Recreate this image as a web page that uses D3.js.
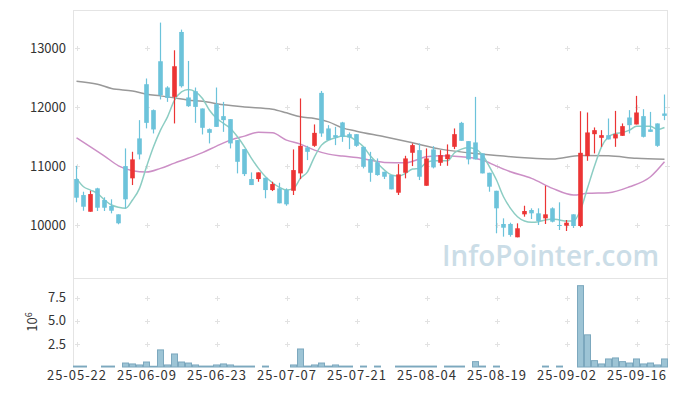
<!DOCTYPE html>
<html>
<head>
<meta charset="utf-8">
<script src="https://cdn.jsdelivr.net/npm/d3@7"></script>
<style>
body { margin: 0; background: #fff; }
text { font-family: "Noto Sans CJK KR", "Noto Sans", sans-serif; }
</style>
</head>
<body>
<svg id="chart" width="677" height="396"></svg>
<script>
// trading days shown on the chart
let dates = [
    "25-05-22", "25-05-23", "25-05-26", "25-05-27", "25-05-28", "25-05-29", "25-05-30", "25-06-02", "25-06-04", "25-06-05",
    "25-06-09", "25-06-10", "25-06-11", "25-06-12", "25-06-13", "25-06-16", "25-06-17", "25-06-18", "25-06-19", "25-06-20",
    "25-06-23", "25-06-24", "25-06-25", "25-06-26", "25-06-27", "25-06-30", "25-07-01", "25-07-02", "25-07-03", "25-07-04",
    "25-07-07", "25-07-08", "25-07-09", "25-07-10", "25-07-11", "25-07-14", "25-07-15", "25-07-16", "25-07-17", "25-07-18",
    "25-07-21", "25-07-22", "25-07-23", "25-07-24", "25-07-25", "25-07-28", "25-07-29", "25-07-30", "25-07-31", "25-08-01",
    "25-08-04", "25-08-05", "25-08-06", "25-08-07", "25-08-08", "25-08-11", "25-08-12", "25-08-13", "25-08-14", "25-08-18",
    "25-08-19", "25-08-20", "25-08-21", "25-08-22", "25-08-25", "25-08-26", "25-08-27", "25-08-28", "25-08-29", "25-09-01",
    "25-09-02", "25-09-03", "25-09-04", "25-09-05", "25-09-08", "25-09-09", "25-09-10", "25-09-11", "25-09-12", "25-09-15",
    "25-09-16", "25-09-17", "25-09-18", "25-09-19", "25-09-22"
];

let open = [
    10780, 10508, 10225, 10622, 10424, 10322, 10181, 11000, 10792, 11470,
    12390, 11950, 12780, 12334, 12175, 13277, 12165, 12271, 11978, 11627,
    12051, 11848, 11797, 11441, 11288, 10780, 10780, 10802, 10593, 10622,
    10593, 10581, 10876, 11317, 11344, 12243, 11639, 11525, 11741, 11542,
    11542, 11327, 11119, 11063, 10904, 10848, 10548, 10887, 11226, 11271,
    10666, 11283, 11056, 11119, 11327, 11734, 11424, 11402, 11215, 10887,
    10581, 10017, 10017, 9791, 10181, 10254, 10198, 10113, 10283, 10000,
    9988, 10181, 9983, 11170, 11542, 11480, 11525, 11470, 11514, 11825,
    11707, 11848, 11622, 11724, 11893
];
let high = [
    11005, 10565, 10581, 10632, 10470, 10436, 10181, 11300, 11243, 11780,
    12487, 11961, 13436, 12356, 12966, 13317, 12785, 12334, 11978, 11639,
    12334, 12090, 11797, 11441, 11288, 10893, 10893, 10802, 10734, 10717,
    10622, 11283, 12148, 11344, 11707, 12276, 11695, 11666, 11751, 11571,
    11542, 11327, 11242, 11130, 10904, 10848, 11034, 11175, 11385, 11385,
    11300, 11339, 11271, 11368, 11639, 11751, 11424, 12175, 11215, 10887,
    10581, 10113, 10039, 10028, 10327, 10283, 10283, 10666, 10300, 10385,
    10085, 10181, 11932, 11910, 11656, 11610, 11808, 11937, 11724, 11950,
    12192, 11966, 11920, 11724, 12215
];
let low = [
    10385, 10242, 10225, 10237, 10237, 10198, 10012, 10283, 10678, 11114,
    11640, 11554, 12131, 12090, 11724, 12334, 12005, 11734, 11537, 11385,
    11666, 11581, 11300, 10876, 10831, 10678, 10734, 10453, 10576, 10368,
    10327, 10509, 10780, 11102, 11327, 11497, 11441, 11356, 11412, 11288,
    11327, 10961, 10734, 10836, 10780, 10605, 10509, 10792, 11000, 10763,
    10666, 10961, 11005, 11005, 11288, 11429, 11029, 11114, 10876, 10565,
    9859, 9802, 9802, 9791, 10141, 10102, 10000, 10017, 10045, 9915,
    9898, 9949, 9961, 11090, 11215, 11327, 11453, 11327, 11514, 11554,
    11707, 11486, 11581, 11327, 11780
];
let close = [
    10463, 10310, 10525, 10293, 10293, 10242, 10029, 10436, 11114, 11198,
    11734, 11622, 12204, 12158, 12695, 12356, 12017, 12005, 11650, 11565,
    11666, 11780, 11385, 11073, 10864, 10678, 10893, 10593, 10695, 10368,
    10351, 10932, 11344, 11242, 11564, 11554, 11441, 11486, 11497, 11486,
    11344, 10988, 10887, 10848, 10819, 10605, 10859, 11130, 11356, 10819,
    11130, 10978, 11186, 11198, 11542, 11429, 11114, 11114, 10876, 10650,
    10283, 9954, 9831, 9944, 10237, 10198, 10068, 10181, 10056, 9983,
    10039, 9983, 11225, 11571, 11610, 11525, 11453, 11542, 11678, 11695,
    11910, 11497, 11581, 11344, 11853
];

// volume in millions of shares
let volume = [
    0.10, 0.10, 0, 0, 0.10, 0.10, 0, 0.43, 0.33, 0.22,
    0.54, 0.08, 1.85, 0.22, 1.41, 0.54, 0.43, 0.22, 0.10, 0.10,
    0.22, 0.33, 0.22, 0.10, 0.10, 0.10, 0, 0.10, 0, 0,
    0, 0.22, 1.95, 0.10, 0.22, 0.43, 0.10, 0.22, 0.10, 0.10,
    0, 0.10, 0, 0.10, 0, 0, 0.10, 0.10, 0.10, 0.10,
    0.10, 0.10, 0, 0.10, 0.10, 0.10, 0, 0.58, 0.10, 0,
    0.10, 0, 0, 0, 0, 0, 0, 0.10, 0, 0.10,
    0, 0, 8.80, 3.48, 0.69, 0.33, 0.87, 0.98, 0.58, 0.43,
    0.87, 0.33, 0.43, 0.22, 0.87
];

// 5-day average, one value per trading day
let ma5 = [
    10792, 10649, 10593, 10537, 10424, 10339, 10300, 10283, 10424, 10622,
    10988, 11327, 11610, 11836, 12119, 12259, 12300, 12259, 12148, 11949,
    11814, 11724, 11639, 11497, 11327, 11131, 10961, 10819, 10717, 10639,
    10593, 10622, 10792, 10903, 11158, 11356, 11441, 11480, 11509, 11497,
    11424, 11327, 11170, 11046, 10932, 10848, 10831, 10876, 10949, 10961,
    11063, 11090, 11090, 11090, 11226, 11288, 11310, 11288, 11187, 10988,
    10763, 10480, 10283, 10141, 10068, 10046, 10056, 10085, 10102, 10085,
    10068, 10068, 10254, 10627, 11000, 11327, 11497, 11554, 11571, 11610,
    11678, 11678, 11678, 11622, 11656
];

// 20-day average, read at these trading-day indices
let ma20Idx = [0, 2, 4, 6, 8, 10, 12, 14, 16, 18, 20, 22, 24, 26, 28, 30, 32, 34, 36, 38,
    40, 44, 47, 50, 52, 55, 58, 60, 62, 65, 68, 71, 73, 76, 79, 82, 84];
let ma20 = [11480, 11327, 11170, 11005, 10922, 10898, 10961, 11051, 11136, 11229,
    11339, 11441, 11509, 11576, 11565, 11441, 11373, 11271, 11203, 11170,
    11144, 11063, 11056, 11158, 11175, 11158, 11102, 11000, 10903, 10792,
    10622, 10509, 10537, 10548, 10649, 10819, 11073];

// 60-day average, read at these trading-day indices
let ma60Idx = [0, 3, 5, 8, 10, 12, 14, 16, 18, 20, 24, 28, 30, 32, 34, 36, 38, 40,
    44, 48, 52, 56, 60, 64, 68, 72, 76, 80, 84];
let ma60 = [12441, 12390, 12317, 12276, 12220, 12192, 12158, 12119, 12102, 12059,
    12005, 11966, 11904, 11836, 11809, 11751, 11649, 11593,
    11497, 11395, 11288, 11225, 11178, 11141, 11119, 11180, 11175, 11131, 11114];

let priceTicks = [10000, 11000, 12000, 13000];
let volumeTicks = [2.5, 5.0, 7.5];
let dateTickIdx = [0, 10, 20, 30, 40, 50, 60, 70, 80];

let svg = d3.select("#chart");
let left = 73, right = 668, plotTop = 10, priceBottom = 278, volBottom = 367;

let x = d3.scaleBand().domain(d3.range(dates.length)).range([left, right]);
let cx = i => x(i) + x.bandwidth() / 2;
let y = d3.scaleLinear().domain([9100, 13650]).range([priceBottom, plotTop]);
let yv = d3.scaleLinear().domain([0, 9.63]).range([volBottom, priceBottom]);

// little "+" grid marks
let grid = svg.append("g").attr("stroke", "#e2e2e2").attr("stroke-width", 1);
function crosses(xs, ys) {
    xs.forEach(px => ys.forEach(py => {
        grid.append("path").attr("d", `M${px - 2.5},${py}H${px + 2.5}M${px},${py - 2.5}V${py + 2.5}`);
    }));
}
let gx = dateTickIdx.map(i => Math.round(cx(i)) + 0.5).concat([right - 0.5]);
crosses(gx, priceTicks.map(v => Math.round(y(v)) + 0.5));
crosses(gx, volumeTicks.map(v => Math.round(yv(v)) + 0.5));

// panel frames
let frame = svg.append("g").attr("fill", "none").attr("stroke", "#e4e4e4");
frame.append("rect").attr("x", left + 0.5).attr("y", plotTop + 0.5)
    .attr("width", right - left - 1).attr("height", priceBottom - plotTop);
frame.append("path").attr("d", `M${left + 0.5},${priceBottom}V${volBottom}M${right - 0.5},${priceBottom}V${volBottom}`);

// watermark
svg.append("text")
    .attr("x", 442).attr("y", 265.5)
    .attr("textLength", 217).attr("lengthAdjust", "spacingAndGlyphs")
    .style("font-family", "'Open Sans', 'Noto Sans', sans-serif")
    .style("font-size", "28px")
    .style("font-weight", 600)
    .attr("fill", "#cbdde7")
    .text("InfoPointer.com");

// moving averages
function drawLine(idx, vals, color) {
    let pts = idx.map((d, k) => [d, vals[k]]);
    svg.append("path")
        .attr("d", d3.line().x(d => cx(d[0])).y(d => y(d[1])).curve(d3.curveMonotoneX)(pts))
        .attr("fill", "none")
        .attr("stroke", color)
        .attr("stroke-width", 1.5);
}
drawLine(ma60Idx, ma60, "#999999");
drawLine(ma20Idx, ma20, "#cc8fc6");
drawLine(d3.range(dates.length), ma5, "#8ccdc3");

// candles
let up = "#ec3434", down = "#6cc3da";
let bodyW = 4.6;
let candles = svg.append("g").selectAll("g")
    .data(d3.range(dates.length)).enter()
    .append("g")
    .attr("fill", i => close[i] >= open[i] ? up : down)
    .attr("stroke", i => close[i] >= open[i] ? up : down);
candles.append("line")
    .attr("x1", cx).attr("x2", cx)
    .attr("y1", i => y(high[i])).attr("y2", i => y(low[i]))
    .attr("stroke-width", 1.2);
candles.append("rect")
    .attr("x", i => cx(i) - bodyW / 2)
    .attr("width", bodyW)
    .attr("y", i => y(Math.max(open[i], close[i])))
    .attr("height", i => Math.max(1, Math.abs(y(open[i]) - y(close[i]))))
    .attr("stroke", "none");

// volume bars
svg.append("g").selectAll("rect")
    .data(d3.range(dates.length).filter(i => volume[i] > 0)).enter()
    .append("rect")
    .attr("x", i => x(i) + 0.5)
    .attr("width", x.bandwidth() - 1)
    .attr("y", i => yv(volume[i]))
    .attr("height", i => volBottom - yv(volume[i]))
    .attr("fill", "#9dc4d5")
    .attr("stroke", "#7ca8be")
    .attr("stroke-width", 1);

// axes
function styleAxis(g) {
    g.select(".domain").remove();
    g.selectAll("text").attr("fill", "#333").style("font-size", "13px")
        .style("font-family", "'Noto Sans CJK KR', 'Noto Sans', sans-serif");
}
svg.append("g").attr("transform", `translate(${left},0)`)
    .call(d3.axisLeft(y).tickValues(priceTicks).tickSize(0).tickPadding(7).tickFormat(d3.format("d")))
    .call(styleAxis);
svg.append("g").attr("transform", `translate(${left},0)`)
    .call(d3.axisLeft(yv).tickValues(volumeTicks).tickSize(0).tickPadding(7).tickFormat(d3.format(".1f")))
    .call(styleAxis);
svg.append("g").attr("transform", `translate(0,${volBottom})`)
    .call(d3.axisBottom(x).tickValues(dateTickIdx).tickSize(0).tickPadding(4).tickFormat(i => dates[i]))
    .call(styleAxis)
    .selectAll("text")
    .attr("textLength", 59).attr("lengthAdjust", "spacing");

// offset label for the volume axis
let unit = svg.append("text")
    .attr("transform", "translate(37,322) rotate(-90)")
    .attr("text-anchor", "middle")
    .attr("fill", "#333")
    .style("font-size", "13px");
unit.append("tspan").text("10");
unit.append("tspan").attr("dy", -5).style("font-size", "9px").text("6");
</script>
</body>
</html>
